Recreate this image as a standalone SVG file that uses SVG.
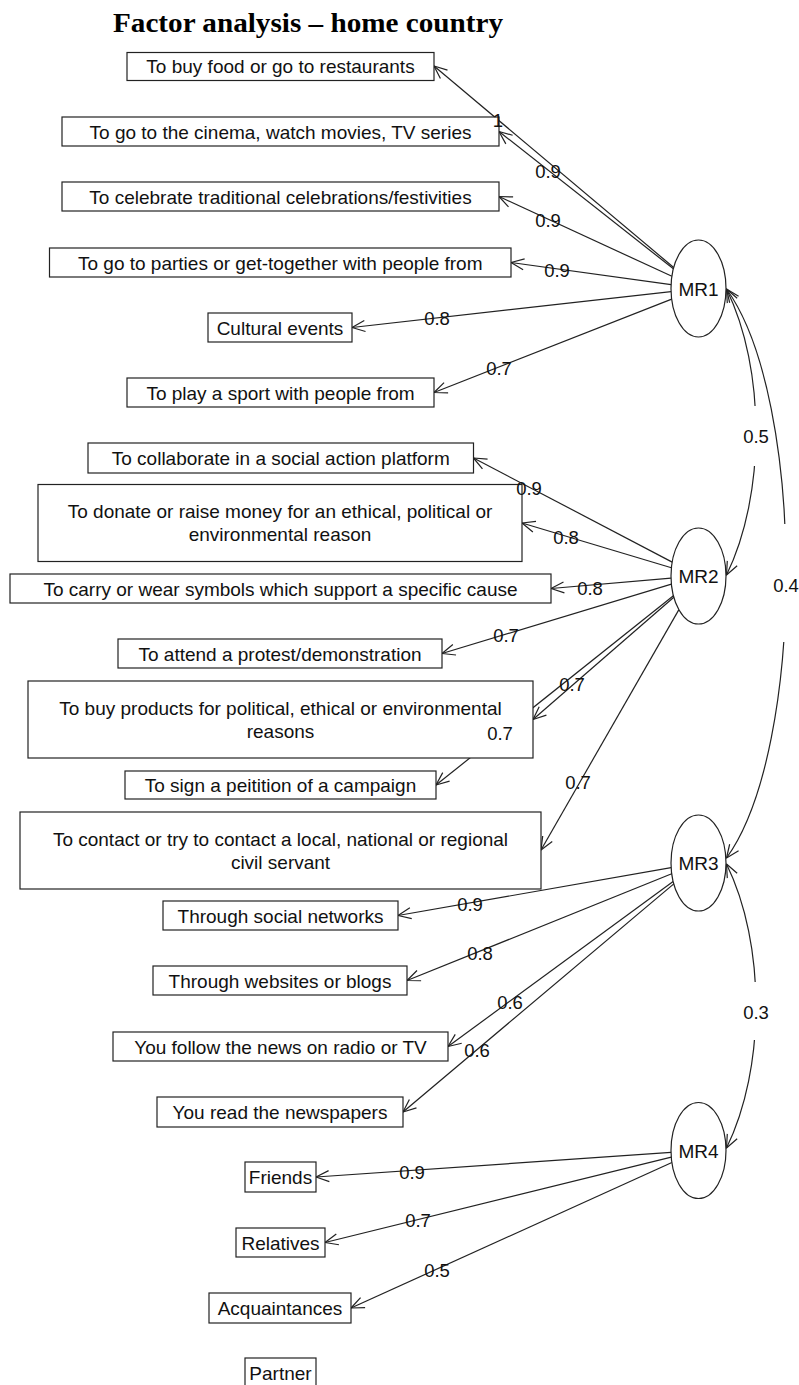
<svg xmlns="http://www.w3.org/2000/svg" width="799" height="1385" viewBox="0 0 799 1385">
<style>
.bx{fill:#fff;stroke:#222;stroke-width:1.2}
.el{fill:#fff;stroke:#222;stroke-width:1.2}
.t{font-family:"Liberation Sans",Arial,sans-serif;font-size:19px;fill:#111;text-anchor:middle}
.lb{font-family:"Liberation Sans",Arial,sans-serif;font-size:18.5px;fill:#111;text-anchor:middle}
.e{fill:none;stroke:#222;stroke-width:1.2;marker-end:url(#ah)}
.c{fill:none;stroke:#222;stroke-width:1.2;marker-end:url(#ah);marker-start:url(#ah)}
.gap{fill:#fff;stroke:none}
.title{font-family:"Liberation Serif","Times New Roman",serif;font-weight:bold;font-size:28px;fill:#000}
</style>
<defs>
<marker id="ah" viewBox="-15 -8 16 16" refX="0" refY="0" markerWidth="16" markerHeight="16" markerUnits="userSpaceOnUse" orient="auto-start-reverse">
<path d="M-13,-5.5 L0,0 L-13,5.5" fill="none" stroke="#222" stroke-width="1.2" stroke-linejoin="round"/>
</marker>
</defs>
<rect width="799" height="1385" fill="#fff"/>
<text class="title" x="113" y="32" textLength="390" lengthAdjust="spacingAndGlyphs">Factor analysis – home country</text>

<g id="connectors">
<path class="e" d="M673.7,267.5 L434,66"/>
<path class="e" d="M673.4,268.8 L499,131.5"/>
<path class="e" d="M671.9,276.3 L499,196.5"/>
<path class="e" d="M671.1,284.6 L511,262.5"/>
<path class="e" d="M671.1,291.6 L352,327.5"/>
<path class="e" d="M671.7,299.1 L434,392.5"/>
<path class="e" d="M672.2,562.1 L473.5,458"/>
<path class="e" d="M671.4,567.8 L522,523"/>
<path class="e" d="M671.0,578.2 L551,588.5"/>
<path class="e" d="M671.4,584.1 L442,653.5"/>
<path class="e" d="M673.8,597.2 L533,719.5"/>
<path class="e" d="M673.4,595.8 L436,785"/>
<path class="e" d="M678.9,609.6 L541,850"/>
<path class="e" d="M671.1,867.7 L398,915.5"/>
<path class="e" d="M671.7,873.8 L407,980.5"/>
<path class="e" d="M673.1,881.5 L448,1046.5"/>
<path class="e" d="M673.8,883.9 L403,1112"/>
<path class="e" d="M671,1152.4 L316,1177"/>
<path class="e" d="M671.3,1157.2 L325,1242.5"/>
<path class="e" d="M671.9,1162.5 L351,1308"/>
<path class="c" d="M726.5,289 C765.8,369 765.8,495 726.5,575"/>
<path class="c" d="M726.5,289 C806,399 806,748 726.5,858"/>
<path class="c" d="M726.5,864 C765.8,944 765.8,1068 726.5,1148"/>
<rect class="gap" x="744" y="406" width="24" height="60"/>
<rect class="gap" x="774" y="524" width="25" height="118"/>
<rect class="gap" x="744" y="982" width="24" height="58"/>
</g>

<g id="MR1"><ellipse class="el" cx="698.5" cy="288.5" rx="27.5" ry="48.5"/><text class="t" x="698.5" y="295.5">MR1</text></g>
<g id="MR2"><ellipse class="el" cx="698.5" cy="576" rx="27.5" ry="48"/><text class="t" x="698.5" y="583">MR2</text></g>
<g id="MR3"><ellipse class="el" cx="698.5" cy="863" rx="27.5" ry="48"/><text class="t" x="698.5" y="870">MR3</text></g>
<g id="MR4"><ellipse class="el" cx="698.5" cy="1150.5" rx="27.5" ry="48"/><text class="t" x="698.5" y="1157.5">MR4</text></g>

<g id="n1"><rect class="bx" x="127" y="52.5" width="307" height="28"/><text class="t" x="280.5" y="73">To buy food or go to restaurants</text></g>
<g id="n2"><rect class="bx" x="62" y="117" width="437" height="29"/><text class="t" x="280.5" y="138.5">To go to the cinema, watch movies, TV series</text></g>
<g id="n3"><rect class="bx" x="62" y="182" width="437" height="29"/><text class="t" x="280.5" y="203.5">To celebrate traditional celebrations/festivities</text></g>
<g id="n4"><rect class="bx" x="49.5" y="248" width="461.5" height="29"/><text class="t" x="280.25" y="269.5">To go to parties or get-together with people from</text></g>
<g id="n5"><rect class="bx" x="208" y="313" width="144" height="29"/><text class="t" x="280" y="334.5">Cultural events</text></g>
<g id="n6"><rect class="bx" x="127" y="378" width="307" height="29"/><text class="t" x="280.5" y="399.5">To play a sport with people from</text></g>
<g id="n7"><rect class="bx" x="88" y="443" width="385.5" height="30"/><text class="t" x="280.75" y="465">To collaborate in a social action platform</text></g>
<g id="n8"><rect class="bx" x="38" y="484.5" width="484" height="77"/><text class="t" x="280" y="518">To donate or raise money for an ethical, political or</text><text class="t" x="280" y="541">environmental reason</text></g>
<g id="n9"><rect class="bx" x="10" y="574" width="541" height="29"/><text class="t" x="280.5" y="595.5">To carry or wear symbols which support a specific cause</text></g>
<g id="n10"><rect class="bx" x="118" y="639" width="324" height="29"/><text class="t" x="280" y="660.5">To attend a protest/demonstration</text></g>
<g id="n11"><rect class="bx" x="28" y="681" width="505" height="77"/><text class="t" x="280.5" y="714.5">To buy products for political, ethical or environmental</text><text class="t" x="280.5" y="737.5">reasons</text></g>
<g id="n12"><rect class="bx" x="125" y="771" width="311" height="28"/><text class="t" x="280.5" y="792">To sign a peitition of a campaign</text></g>
<g id="n13"><rect class="bx" x="20" y="812" width="521" height="77"/><text class="t" x="280.5" y="845.5">To contact or try to contact a local, national or regional</text><text class="t" x="280.5" y="868.5">civil servant</text></g>
<g id="n14"><rect class="bx" x="163" y="901" width="235" height="29"/><text class="t" x="280.5" y="922.5">Through social networks</text></g>
<g id="n15"><rect class="bx" x="153" y="966" width="254" height="29"/><text class="t" x="280" y="987.5">Through websites or blogs</text></g>
<g id="n16"><rect class="bx" x="113" y="1032" width="335" height="29"/><text class="t" x="280.5" y="1053.5">You follow the news on radio or TV</text></g>
<g id="n17"><rect class="bx" x="157" y="1097" width="246" height="30"/><text class="t" x="280" y="1119">You read the newspapers</text></g>
<g id="n18"><rect class="bx" x="245" y="1162" width="71" height="30"/><text class="t" x="280.5" y="1184">Friends</text></g>
<g id="n19"><rect class="bx" x="236" y="1228" width="89" height="29"/><text class="t" x="280.5" y="1249.5">Relatives</text></g>
<g id="n20"><rect class="bx" x="209" y="1293" width="142" height="30"/><text class="t" x="280" y="1315">Acquaintances</text></g>
<g id="n21"><rect class="bx" x="245" y="1358" width="71" height="30"/><text class="t" x="280.5" y="1380">Partner</text></g>

<g id="edge-labels">
<text class="lb" x="498" y="127">1</text>
<text class="lb" x="548" y="177.5">0.9</text>
<text class="lb" x="548" y="226.5">0.9</text>
<text class="lb" x="557" y="276.5">0.9</text>
<text class="lb" x="437" y="324.5">0.8</text>
<text class="lb" x="499" y="374.5">0.7</text>
<text class="lb" x="529" y="494.5">0.9</text>
<text class="lb" x="566" y="543.5">0.8</text>
<text class="lb" x="590" y="594.5">0.8</text>
<text class="lb" x="506" y="641.5">0.7</text>
<text class="lb" x="572" y="690.5">0.7</text>
<text class="lb" x="500" y="739.5">0.7</text>
<text class="lb" x="578" y="788.5">0.7</text>
<text class="lb" x="470" y="910.5">0.9</text>
<text class="lb" x="480" y="959.5">0.8</text>
<text class="lb" x="510" y="1008.5">0.6</text>
<text class="lb" x="477" y="1056.5">0.6</text>
<text class="lb" x="412" y="1178.5">0.9</text>
<text class="lb" x="418" y="1226.5">0.7</text>
<text class="lb" x="437" y="1276.5">0.5</text>
<text class="lb" x="756" y="442.5">0.5</text>
<text class="lb" x="786" y="591.5">0.4</text>
<text class="lb" x="756" y="1018.5">0.3</text>
</g>
</svg>
